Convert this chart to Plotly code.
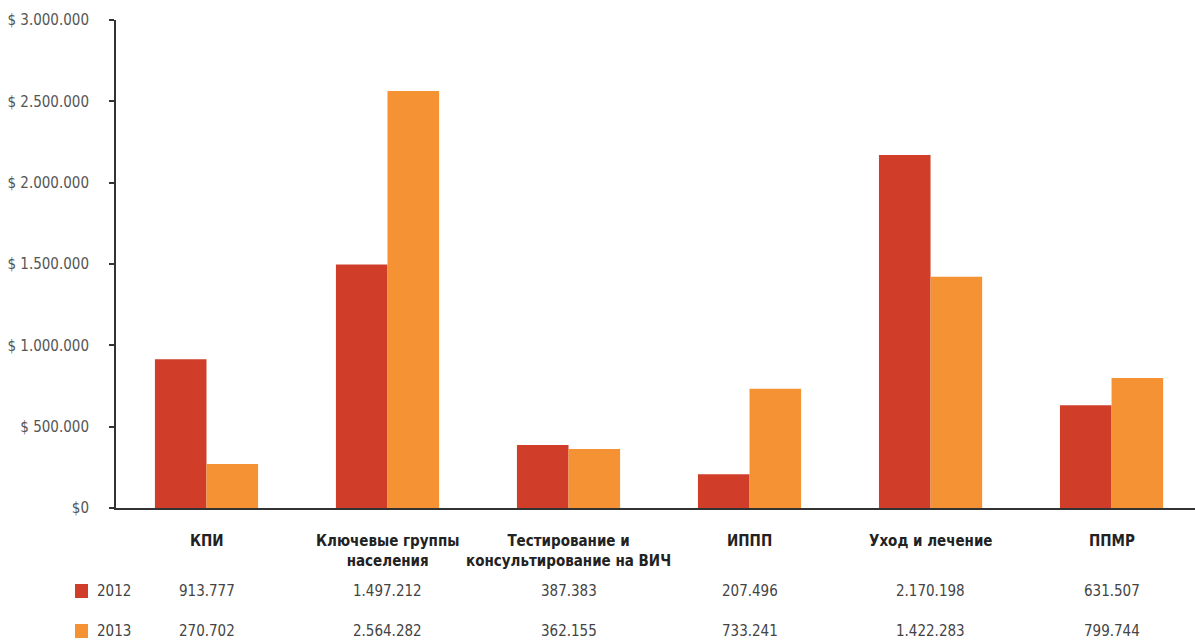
import plotly.graph_objects as go

CATEGORIES = [
    "КПИ",
    "Ключевые группы<br>населения",
    "Тестирование и<br>консультирование на ВИЧ",
    "ИППП",
    "Уход и лечение",
    "ППМР",
]
YEARS = ["2012", "2013"]
VALUES_2012 = [913777, 1497212, 387383, 207496, 2170198, 631507]
VALUES_2013 = [270702, 2564282, 362155, 733241, 1422283, 799744]

Y_TICKS = [0, 500000, 1000000, 1500000, 2000000, 2500000, 3000000]
Y_TICK_TEXT = ["$0", "$ 500.000", "$ 1.000.000", "$ 1.500.000",
               "$ 2.000.000", "$ 2.500.000", "$ 3.000.000"]

COLORS = ["#D03E2A", "#F59234"]
FONT = "DejaVu Sans Condensed, DejaVu Sans, sans-serif"


def fmt(v):
    return f"{v:,}".replace(",", ".")


x_idx = list(range(len(CATEGORIES)))
fig = go.Figure()
for name, vals, col in zip(YEARS, [VALUES_2012, VALUES_2013], COLORS):
    fig.add_trace(go.Bar(x=x_idx, y=vals, name=name, marker=dict(color=col, line=dict(width=0)),
                         hoverinfo="skip"))

fig.update_layout(
    width=1195,
    height=640,
    barmode="group",
    bargap=0.43,
    bargroupgap=0,
    showlegend=False,
    paper_bgcolor="white",
    plot_bgcolor="white",
    margin=dict(l=116, r=0, t=20, b=132, autoexpand=False),
    font=dict(family=FONT, color="#444"),
)
fig.update_xaxes(
    range=[-0.5, 5.461],
    showticklabels=False,
    showgrid=False,
    zeroline=False,
    showline=True,
    linecolor="#333",
    linewidth=2,
    ticks="",
    automargin=False,
)
fig.update_yaxes(
    range=[0, 3000000],
    tickvals=Y_TICKS,
    ticktext=Y_TICK_TEXT,
    ticks="outside",
    ticklen=5,
    tickcolor="#333",
    tickwidth=1.5,
    ticklabelstandoff=17,
    tickfont=dict(family=FONT, size=15, color="#555"),
    showgrid=False,
    zeroline=False,
    showline=True,
    linecolor="#333",
    linewidth=2,
    automargin=False,
)

# category labels under the axis
for i, cat in enumerate(CATEGORIES):
    fig.add_annotation(x=i, y=0, xref="x", yref="paper", yanchor="top", yshift=-22,
                       text="<b>" + cat + "</b>", showarrow=False,
                       font=dict(family=FONT, size=15, color="#222"))

# data table rows with legend swatches
for r, (name, vals, col) in enumerate(zip(YEARS, [VALUES_2012, VALUES_2013], COLORS)):
    ys = -83 - 40 * r
    fig.add_shape(type="rect", xref="paper", yref="paper", xsizemode="pixel", ysizemode="pixel",
                  xanchor=0, yanchor=0, x0=-41, x1=-28, y0=ys - 7, y1=ys + 7,
                  fillcolor=col, line=dict(width=0))
    fig.add_annotation(x=0, y=0, xref="paper", yref="paper", xanchor="left", yanchor="middle",
                       xshift=-21, yshift=ys, text=name, showarrow=False,
                       font=dict(family=FONT, size=15, color="#444"))
    for i, v in enumerate(vals):
        fig.add_annotation(x=i, y=0, xref="x", yref="paper", xanchor="center", yanchor="middle",
                           yshift=ys, text=fmt(v), showarrow=False,
                           font=dict(family=FONT, size=15, color="#444"))

fig.write_html(
    "out.html",
    config={"displayModeBar": False},
    post_script="document.body.style.margin='0px';document.body.style.overflow='hidden';",
)
